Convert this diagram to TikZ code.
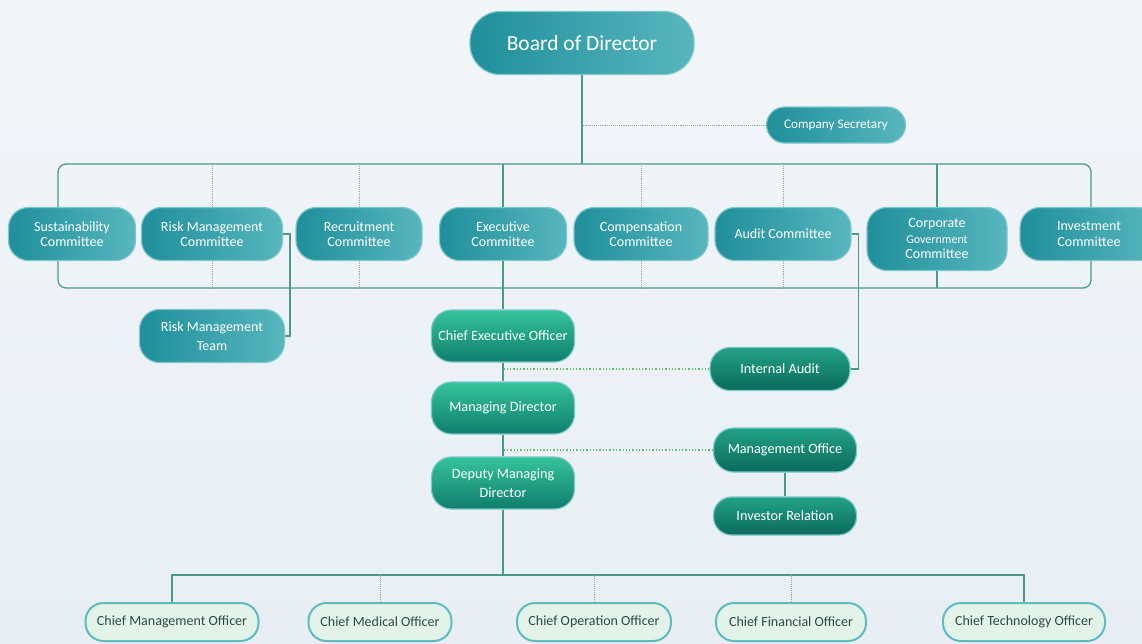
\documentclass[tikz,border=0pt]{standalone}
\usepackage{fontspec}
\setmainfont{Carlito}
\definecolor{linecol}{HTML}{4A9A8C}
\definecolor{dotcol}{HTML}{8FAAA3}
\definecolor{gdotcol}{HTML}{5CC46C}
\definecolor{tealdark}{HTML}{1F8F9B}
\definecolor{teallight}{HTML}{58B6BE}
\definecolor{tealrim}{HTML}{7CC8CD}
\definecolor{greentop}{HTML}{35C39B}
\definecolor{greenbot}{HTML}{0F7E6D}
\definecolor{darktop}{HTML}{22A285}
\definecolor{darkbot}{HTML}{0B6A5C}
\definecolor{offfill}{HTML}{E4F3EA}
\definecolor{offrim}{HTML}{5DBCBF}
\definecolor{offtext}{HTML}{2A4B46}
\definecolor{bgtop}{HTML}{F3F6F9}
\definecolor{bgbot}{HTML}{E8EEF3}
\tikzset{
  tealbox/.style={rectangle, rounded corners=20pt, align=center, draw=tealrim,
    line width=1.2pt, left color=tealdark, right color=teallight,
    text=white, minimum height=53pt, inner sep=1pt,
    font=\fontsize{14}{15.5}\selectfont},
  greenbox/.style={rectangle, rounded corners=20pt, align=center, draw=tealrim,
    line width=1.2pt, top color=greentop, bottom color=greenbot,
    text=white, minimum height=52pt, minimum width=143pt, inner sep=1pt,
    font=\fontsize{14.2}{19}\selectfont},
  darkbox/.style={greenbox, top color=darktop, bottom color=darkbot, minimum height=43pt},
  officerbox/.style={rectangle, rounded corners=18pt, align=center, draw=offrim,
    line width=2pt, fill=offfill, text=offtext, minimum height=38pt, inner sep=2pt,
    font=\fontsize{14}{15}\selectfont},
  link/.style={draw=linecol, line width=1.3pt},
  dotlink/.style={draw=dotcol, line width=0.9pt, densely dotted},
  gdotlink/.style={draw=gdotcol, line width=1.3pt, dotted}
}
\begin{document}
\begin{tikzpicture}[x=1pt,y=-1pt]
  \useasboundingbox (0,0) rectangle (1142,643);
  \fill[top color=bgtop, bottom color=bgbot] (0,0) rectangle (1142,643);
  % top of the chart
  \node[tealbox, rounded corners=30pt, minimum width=224pt, minimum height=63pt,
    font=\fontsize{21.5}{24}\selectfont] (board) at (582,43) {Board of Director};
  \node[tealbox, rounded corners=18pt, minimum width=139pt, minimum height=36pt,
    font=\fontsize{13.2}{15}\selectfont] (secretary) at (836,125) {Company Secretary};
  % committees
  \node[tealbox, minimum width=127pt] (sust) at (72,234) {Sustainability\\Committee};
  \node[tealbox, minimum width=141pt] (riskc) at (212,234) {Risk Management\\Committee};
  \node[tealbox, minimum width=126pt] (recruit) at (359,234) {Recruitment\\Committee};
  \node[tealbox, minimum width=127pt] (exec) at (503,234) {Executive\\Committee};
  \node[tealbox, minimum width=134pt] (comp) at (641,234) {Compensation\\Committee};
  \node[tealbox, minimum width=136pt] (audit) at (783,234) {Audit Committee};
  \node[tealbox, minimum width=140pt, minimum height=63pt] (corpgov) at (937,239)
    {Corporate\\{\fontsize{12}{15.5}\selectfont Government}\\Committee};
  \node[tealbox, minimum width=138pt] (invest) at (1089,234) {Investment\\Committee};
  \node[tealbox, minimum width=145pt, font=\fontsize{14}{19}\selectfont] (riskteam) at (212,336)
    {Risk Management\\Team};
  % executive line
  \node[greenbox] (ceo) at (503,336) {Chief Executive Officer};
  \node[greenbox] (md) at (503,408) {Managing Director};
  \node[greenbox] (dmd) at (503,483) {Deputy Managing\\Director};
  \node[darkbox, minimum width=140pt] (intaudit) at (780,369) {Internal Audit};
  \node[darkbox, minimum height=44pt] (mgmtoff) at (785,450) {Management Office};
  \node[darkbox, minimum height=38pt, rounded corners=18pt] (invrel) at (785,516) {Investor Relation};
  % officers
  \node[officerbox, minimum width=173pt] (cmo) at (172,622) {Chief Management Officer};
  \node[officerbox, minimum width=143pt] (cmed) at (380,622) {Chief Medical Officer};
  \node[officerbox, minimum width=154pt] (coo) at (594,622) {Chief Operation Officer};
  \node[officerbox, minimum width=150pt] (cfo) at (791,622) {Chief Financial Officer};
  \node[officerbox, minimum width=162pt] (cto) at (1024,622) {Chief Technology Officer};
  % buses
  \coordinate (tl) at (58,164);
  \coordinate (tr) at (1091,164);
  \coordinate (cbl) at (58,288);
  \coordinate (cbr) at (1091,288);
  \coordinate (bl) at (172,575);
  % connectors
  \draw[link] (board.south) -- (board.south |- tl);
  \draw[dotlink] (secretary.west) -- (secretary.west -| board.south);
  \draw[link, rounded corners=8pt] (sust.north -| tl) -- (tl) -- (tr) -- (invest.north -| tr);
  \draw[link, rounded corners=8pt] (sust.south -| cbl) -- (cbl) -- (cbr) -- (invest.south -| cbr);
  \foreach \c in {exec,corpgov} {
    \draw[link] (\c.north) -- (\c.north |- tl);
    \draw[link] (\c.south) -- (\c.south |- cbl);
  }
  \foreach \c in {riskc,recruit,comp,audit} {
    \draw[dotlink] (\c.north) -- (\c.north |- tl);
    \draw[dotlink] (\c.south) -- (\c.south |- cbl);
  }
  \draw[link] (riskc.east) -- ++(7,0) |- (riskteam.east);
  \draw[link] (audit.east) -- ++(7,0) |- (intaudit.east);
  \draw[link] (exec.south) -- (ceo.north);
  \draw[link] (ceo.south) -- (md.north);
  \draw[link] (md.south) -- (dmd.north);
  \draw[gdotlink] (intaudit.west) -- (intaudit.west -| ceo.south);
  \draw[gdotlink] (mgmtoff.west) -- (mgmtoff.west -| md.south);
  \draw[link] (mgmtoff.south) -- (invrel.north);
  \draw[link] (dmd.south) -- (dmd.south |- bl);
  \draw[link] (cmo.north) -- (bl) -| (cto.north);
  \foreach \c in {cmed,coo,cfo}
    \draw[dotlink] (\c.north) -- (\c.north |- bl);
\end{tikzpicture}
\end{document}
